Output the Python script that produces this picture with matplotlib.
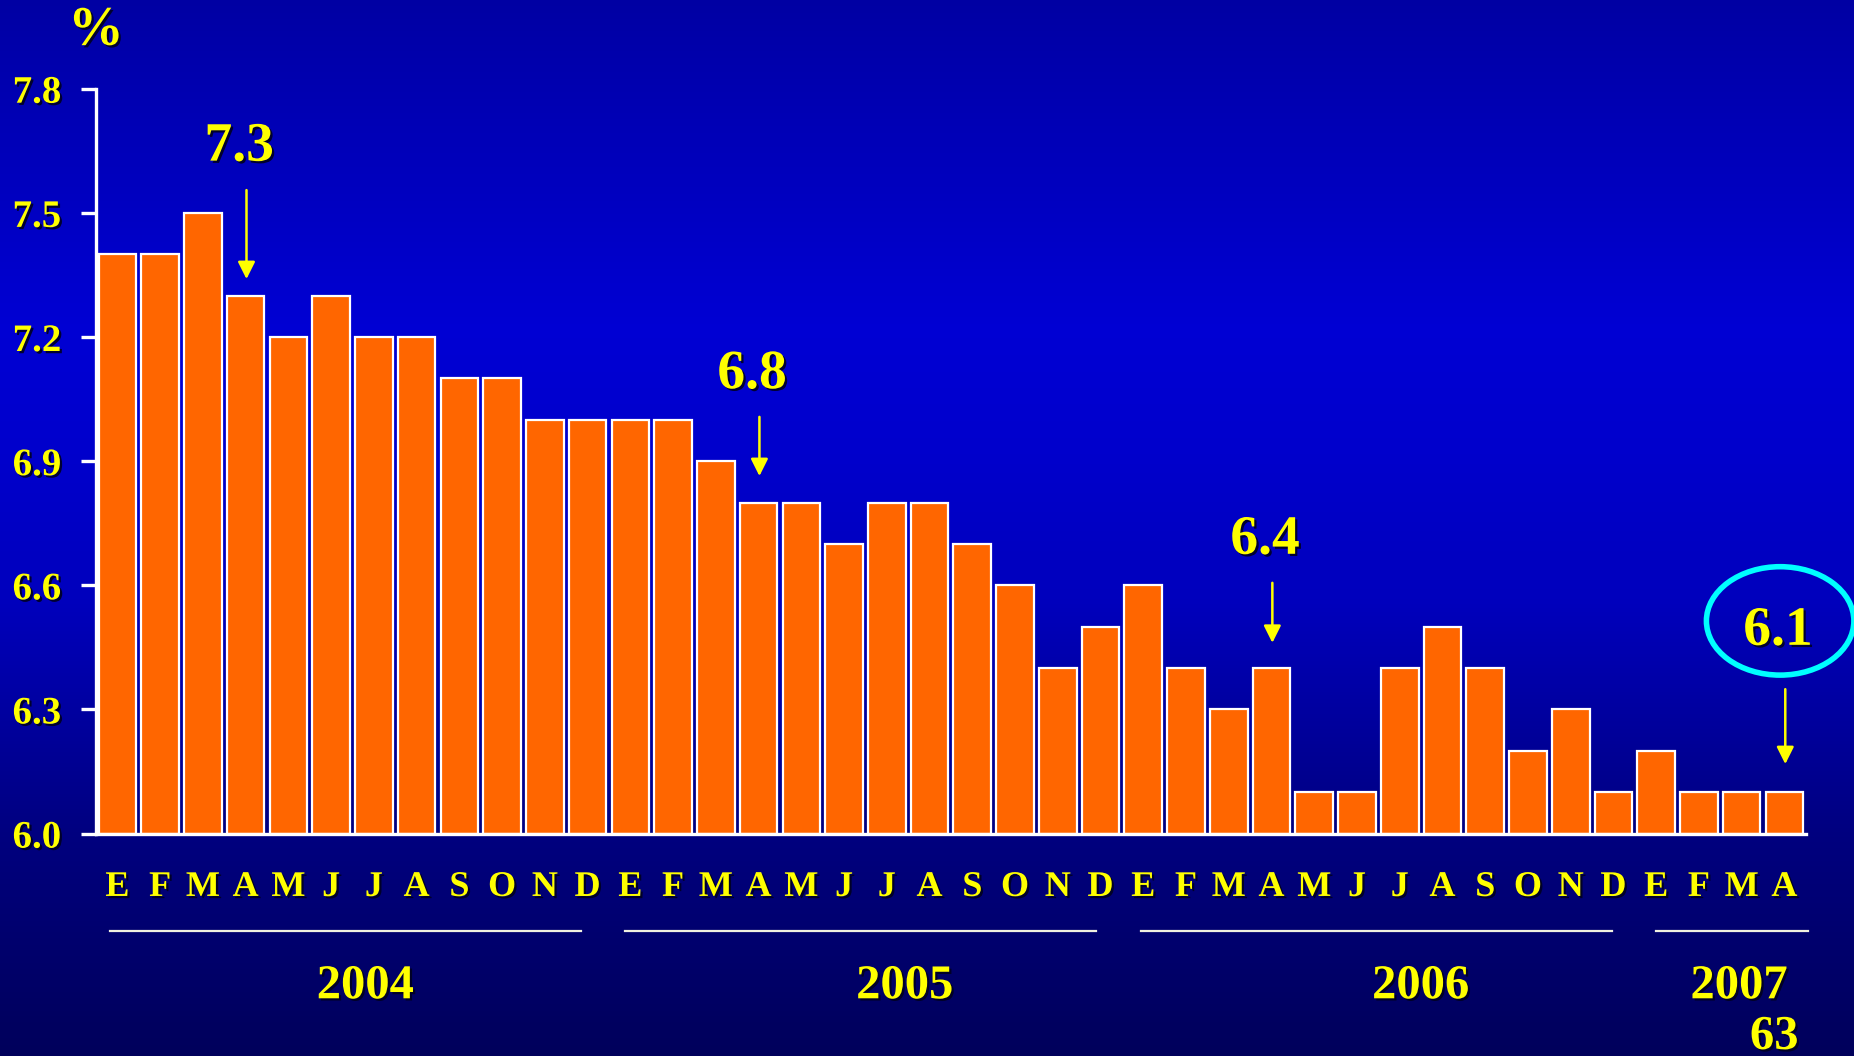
import numpy as np
import matplotlib.pyplot as plt
from matplotlib import patheffects as pe
from matplotlib.patches import Ellipse
from matplotlib.transforms import blended_transform_factory

# ── Datos ──────────────────────────────────────────────────────────────────────
month_letters = ['E', 'F', 'M', 'A', 'M', 'J', 'J', 'A', 'S', 'O', 'N', 'D']
values_2004 = [7.4, 7.4, 7.5, 7.3, 7.2, 7.3, 7.2, 7.2, 7.1, 7.1, 7.0, 7.0]
values_2005 = [7.0, 7.0, 6.9, 6.8, 6.8, 6.7, 6.8, 6.8, 6.7, 6.6, 6.4, 6.5]
values_2006 = [6.6, 6.4, 6.3, 6.4, 6.1, 6.1, 6.4, 6.5, 6.4, 6.2, 6.3, 6.1]
values_2007 = [6.2, 6.1, 6.1, 6.1]
years = ['2004', '2005', '2006', '2007']
y_ticks = [6.0, 6.3, 6.6, 6.9, 7.2, 7.5, 7.8]

values = values_2004 + values_2005 + values_2006 + values_2007
labels = month_letters * 3 + month_letters[:4]

# callouts: (indice de barra, texto)
callouts = [(3, '7.3'), (15, '6.8'), (27, '6.4'), (39, '6.1')]
text_off = [0.36, 0.31, 0.31, 0.39]
tail_off = [0.255, 0.207, 0.206, 0.249]
tip_off = [0.04, 0.064, 0.061, 0.068]

YELLOW = '#FFFF00'
ORANGE = '#FF6600'
shadow = [pe.SimplePatchShadow(offset=(1.6, -1.6), shadow_rgbFace='#000020', alpha=0.9),
          pe.Normal()]
FONT = 'Liberation Serif'

fig = plt.figure(figsize=(18.54, 10.56), dpi=100)

# ── Fondo degradado ───────────────────────────────────────────────────────────
bg = fig.add_axes([0, 0, 1, 1], zorder=-5)
yy = np.linspace(0, 1, 400)
blue = np.interp(yy, [0.0, 0.03, 0.31, 0.43, 0.57, 0.79, 0.97, 1.0],
                 [0.64, 0.66, 0.83, 0.80, 0.74, 0.50, 0.376, 0.36])
grad = np.zeros((400, 2, 3))
grad[:, :, 2] = blue[:, None]
bg.imshow(grad, aspect='auto', extent=[0, 1, 0, 1], origin='upper')
bg.axis('off')

# ── Gráfico principal ─────────────────────────────────────────────────────────
ax = fig.add_axes([0.0518, 0.2106, 0.9222, 0.7054])
ax.set_facecolor('none')
x = np.arange(len(values))
ax.bar(x, np.array(values) - 6.0, bottom=6.0, width=0.88,
       color=ORANGE, edgecolor='white', linewidth=1.6, zorder=3)

ax.set_xlim(-0.5, 39.5)
ax.set_ylim(6.0, 7.8)
for s in ['top', 'right']:
    ax.spines[s].set_visible(False)
for s in ['left', 'bottom']:
    ax.spines[s].set_color('white')
    ax.spines[s].set_linewidth(2.4)
    ax.spines[s].set_zorder(4)
ax.set_xticks([])
ax.set_yticks(y_ticks)
ax.set_yticklabels([f'{t:.1f}' for t in y_ticks])
ax.tick_params(axis='y', colors='white', length=11, width=2.4, pad=14)
for lab in ax.get_yticklabels():
    lab.set_color(YELLOW)
    lab.set_fontfamily(FONT)
    lab.set_fontweight('bold')
    lab.set_fontsize(28)
    lab.set_path_effects(shadow)

# "%"
fig.text(0.0518, 0.971, '%', ha='center', va='center', color=YELLOW,
         fontfamily=FONT, fontweight='bold', fontsize=40, path_effects=shadow)

# ── Etiquetas de meses y años ────────────────────────────────────────────────
tr = blended_transform_factory(ax.transData, fig.transFigure)
for xi, lab in zip(x, labels):
    ax.text(xi, 0.1596, lab, transform=tr, ha='center', va='center',
            color=YELLOW, fontfamily=FONT, fontweight='bold', fontsize=26,
            path_effects=shadow, clip_on=False)

year_spans = [(-0.18, 10.84), (11.88, 22.89), (23.94, 34.96), (36.0, 39.56)]
year_x = [5.8, 18.42, 30.49, 37.94]
for (a, b), xc, yr in zip(year_spans, year_x, years):
    ax.plot([a, b], [0.118, 0.118], transform=tr, color='#F0F0E0', lw=1.6,
            clip_on=False)
    ax.text(xc, 0.066, yr, transform=tr, ha='center', va='center',
            color=YELLOW, fontfamily=FONT, fontweight='bold', fontsize=35,
            path_effects=shadow, clip_on=False)
ax.text(38.76, 0.018, '63', transform=tr, ha='center', va='center',
        color=YELLOW, fontfamily=FONT, fontweight='bold', fontsize=35,
        path_effects=shadow, clip_on=False)

# ── Llamadas con flechas ─────────────────────────────────────────────────────
for (i, txt), to, ta, tp in zip(callouts, text_off, tail_off, tip_off):
    v = values[i]
    ax.annotate('', xy=(i + 0.02, v + tp), xytext=(i + 0.02, v + ta),
                arrowprops=dict(arrowstyle='-|>', color=YELLOW, lw=1.8,
                                mutation_scale=26, shrinkA=0, shrinkB=0),
                annotation_clip=False, zorder=5)
    ax.text(i - 0.15, v + to, txt, ha='center', va='center', color=YELLOW,
            fontfamily=FONT, fontweight='bold', fontsize=40,
            path_effects=shadow, clip_on=False, zorder=5)

# elipse de la última cifra
ax.add_patch(Ellipse((38.9, 6.514), 3.45, 0.262, fill=False,
                     edgecolor='#00FFFF', lw=4, clip_on=False, zorder=6))

fig.savefig('out.png', dpi=100)
